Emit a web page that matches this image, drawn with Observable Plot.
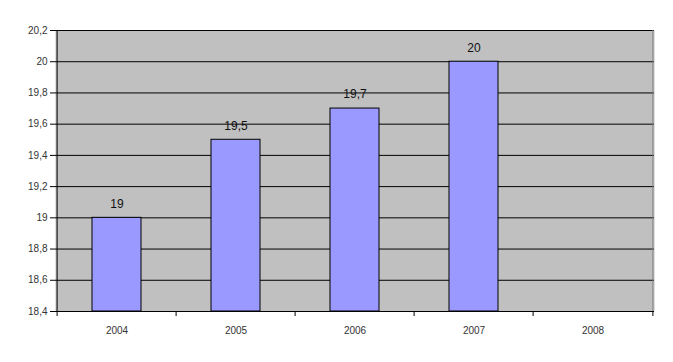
<!DOCTYPE html>
<html>
<head>
<meta charset="utf-8">
<script src="https://cdn.jsdelivr.net/npm/d3@7"></script>
<script src="https://cdn.jsdelivr.net/npm/@observablehq/plot@0.6"></script>
<style>
  html, body { margin: 0; padding: 0; background: #fff; }
  #chart svg { display: block; }
</style>
</head>
<body>
<div id="chart"></div>
<script>
const years = ["2004", "2005", "2006", "2007", "2008"];
const values = [19, 19.5, 19.7, 20, null];
const valueLabels = ["19", "19,5", "19,7", "20", ""];
const yTicks = [18.4, 18.6, 18.8, 19, 19.2, 19.4, 19.6, 19.8, 20, 20.2];

const data = years.map((y, i) => ({year: y, value: values[i], label: valueLabels[i]}));
const bars = data.filter(d => d.value != null);

const W = 673, H = 362, mL = 55, mR = 19, mT = 30, mB = 51;
const step = (W - mL - mR) / years.length;

const chart = Plot.plot({
  width: W, height: H,
  marginLeft: mL, marginRight: mR, marginTop: mT, marginBottom: mB,
  style: {fontFamily: "Liberation Sans, Arial, sans-serif", background: "#fff"},
  x: {domain: years, paddingInner: 0.59, paddingOuter: 0.295, label: null},
  y: {domain: [18.4, 20.2], label: null},
  marks: [
    Plot.frame({fill: "#C0C0C0", stroke: null}),
    Plot.ruleY(yTicks.filter(t => t > 18.4), {y: d => d, stroke: "#000", strokeWidth: 1}),
    Plot.barY(bars, {x: "year", y1: 18.4, y2: "value", fill: "#9999FF", stroke: "#000", strokeWidth: 1}),
    Plot.text(bars, {x: "year", y: "value", text: "label", dy: -14, fontSize: 12, fill: "#111"}),
    // right border
    Plot.ruleX([years[years.length - 1]], {x: d => d, dx: step / 2, y1: 18.4, y2: 20.2, stroke: "#808080"}),
    // axes
    Plot.ruleY([18.4], {stroke: "#000"}),
    Plot.ruleX([years[0]], {x: d => d, dx: -step / 2, y1: 18.4, y2: 20.2, stroke: "#000"}),
    Plot.ruleX(years, {x: d => d, dx: -step / 2, y1: 18.4, y2: 18.4, insetBottom: -5, stroke: "#000"}),
    Plot.ruleX([years[years.length - 1]], {x: d => d, dx: step / 2, y1: 18.4, y2: 18.4, insetBottom: -5, stroke: "#000"}),
    Plot.axisY({ticks: yTicks, tickSize: 5, tickPadding: 3, tickFormat: d => String(d).replace(".", ","), fontSize: 10, color: "#333", stroke: "#000"}),
    Plot.axisX({tickSize: 0, tickPadding: 15, fontSize: 10, color: "#333"})
  ]
});
document.getElementById("chart").appendChild(chart);
</script>
</body>
</html>
